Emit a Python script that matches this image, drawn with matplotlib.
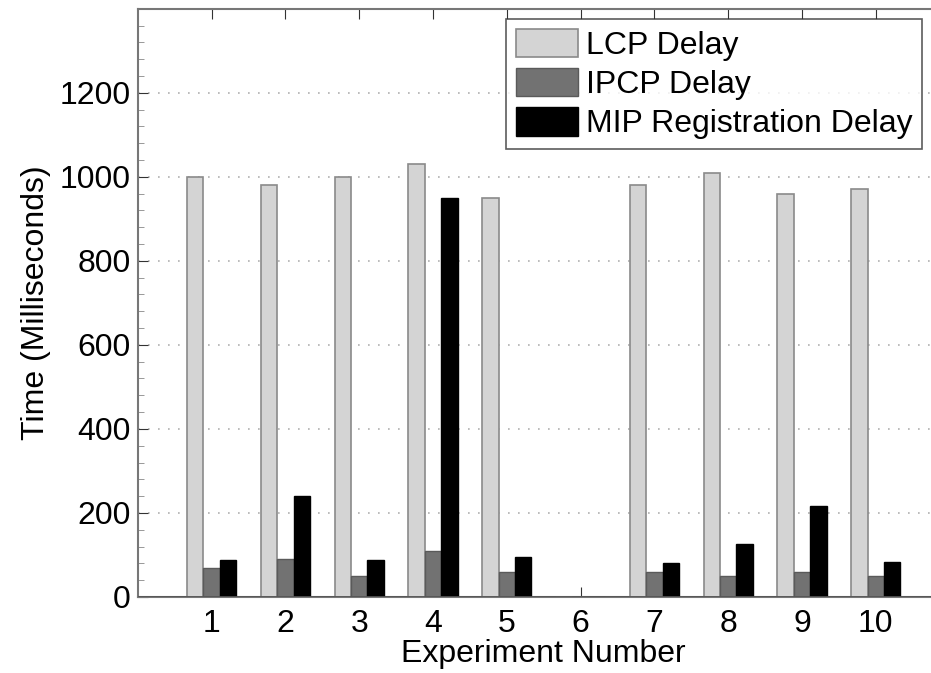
import numpy as np
import matplotlib
matplotlib.use('Agg')
import matplotlib.pyplot as plt
from matplotlib.ticker import MultipleLocator

plt.rcParams['font.family'] = ['Liberation Sans', 'DejaVu Sans']

experiments = [1, 2, 3, 4, 5, 6, 7, 8, 9, 10]
lcp_delay = [1000, 980, 1000, 1030, 950, 0, 980, 1010, 960, 970]
ipcp_delay = [70, 90, 50, 110, 60, 0, 60, 50, 60, 50]
mip_delay = [88, 240, 88, 950, 96, 0, 80, 126, 217, 83]
labels = ['LCP Delay', 'IPCP Delay', 'MIP Registration Delay']

fs = 23

fig = plt.figure(figsize=(9.31, 6.73), dpi=100)
# axes run past the right edge, the source picture is cropped there
ax = fig.add_axes([0.148, 0.113, 0.872, 0.874])

x = np.array(experiments)
w = 0.222
ax.bar(x - w, lcp_delay, w, color='#d4d4d4', edgecolor='#8a8a8a', linewidth=1.2, label=labels[0], zorder=3)
ax.bar(x, ipcp_delay, w, color='#727272', edgecolor='#5a5a5a', linewidth=1.0, label=labels[1], zorder=3)
ax.bar(x + w, mip_delay, w, color='black', edgecolor='black', linewidth=1.0, label=labels[2], zorder=3)

# baseline
ax.axhline(0, color='#555555', linewidth=2, zorder=4)

ax.set_xlim(0, 11)
ax.set_ylim(0, 1400)
ax.set_xticks(experiments)
ax.set_yticks([0, 200, 400, 600, 800, 1000, 1200])
ax.yaxis.set_minor_locator(MultipleLocator(40))
ax.tick_params(axis='both', which='major', direction='in', length=7, labelsize=fs,
               top=True, right=True, color='#333333')
ax.tick_params(axis='y', which='minor', direction='in', length=4, color='#888888', right=True)
ax.tick_params(axis='x', pad=9)
ax.tick_params(axis='y', pad=5)
ax.grid(axis='y', which='major', linestyle=(0, (1, 5)), color='#b0b0b0', linewidth=1.2, zorder=0)

for s in ax.spines.values():
    s.set_color('#777777')
    s.set_linewidth(1.5)

ax.set_xlabel('Experiment Number', fontsize=fs, labelpad=0)
ax.set_ylabel('Time (Milliseconds)', fontsize=fs, labelpad=6)

leg = ax.legend(loc='upper left', bbox_to_anchor=(506 / 931, 1 - 19 / 673),
                bbox_transform=fig.transFigure, fontsize=fs, frameon=True, fancybox=False,
                borderaxespad=0, borderpad=0.3, handlelength=1.95, handleheight=1.0,
                handletextpad=0.25, labelspacing=0.22)
leg.get_frame().set_edgecolor('#333333')
leg.get_frame().set_linewidth(1.2)
leg.set_zorder(5)

fig.savefig('out.png', dpi=100)
